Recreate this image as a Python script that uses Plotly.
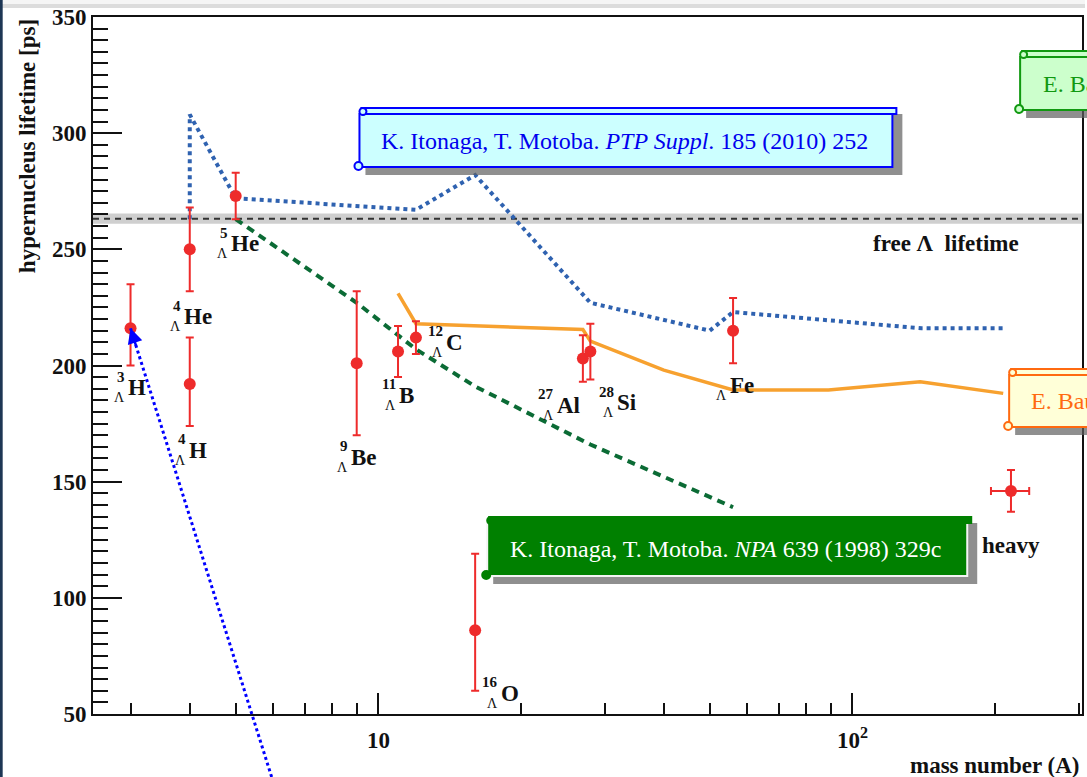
import math
import plotly.graph_objects as go

# ---- measured hypernuclear lifetimes ----
nuclide = ["3H", "4He", "4H", "5He", "9Be", "11B", "12C", "16O", "27Al", "28Si", "Fe"]
mass_A = [3, 4, 4, 5, 9, 11, 12, 16, 27, 28, 56]
tau = [216, 250, 192, 273, 201, 206, 212, 86, 203, 206, 215]
err_up = [19, 18, 20, 10, 31, 11, 7, 33, 10, 12, 14]
err_dn = [16, 18, 18, 10, 31, 11, 7, 26, 10, 12, 14]

# heavy hypernuclei (averaged)
heavy_A = [216]
heavy_tau = [146]
heavy_dA = [20]
heavy_dtau = [9]

# free Lambda lifetime and its uncertainty band
tau_free = 263.2
tau_free_err = 2.2

# theory: Itonaga & Motoba, PTP Suppl. 185 (2010) 252
ptp_A = [4, 4, 5, 12, 16, 28, 50, 56, 140, 208]
ptp_tau = [263, 308, 272, 267, 282, 227, 215, 223, 216, 216]

# theory: Itonaga & Motoba, NPA 639 (1998) 329c
npa_A = [5, 9, 12, 16, 28, 56]
npa_tau = [263, 227, 207, 191, 166, 139]

# theory: E. Bauer
bauer_A = [11, 12, 27, 28, 40, 56, 89, 139, 208]
bauer_tau = [231, 218, 215.5, 210.5, 198, 189.5, 189.5, 193, 188]

# label anchors (mass number, Lambda subscript, element), data coords
lab_mass = ["3", "4", "4", "5", "9", "11", "12", "16", "27", "28", ""]
lab_elem = ["H", "He", "H", "He", "Be", "B", "C", "O", "Al", "Si", "Fe"]
lab_A = [2.94, 3.86, 3.95, 4.83, 8.69, 10.97, 13.78, 17.99, 23.6, 31.5, 54.7]
lab_tau = [190.5, 220.9, 163.6, 252.3, 160.6, 187.3, 210.1, 59.0, 183.0, 183.9, 191.2]

X_MIN, X_MAX = 2.5, 305
Y_MIN, Y_MAX = 50, 350
W, H = 1087, 777
ML, MR, MT, MB = 93, 3, 17, 63
PW, PH = W - ML - MR, H - MT - MB

SERIF = "Liberation Serif"
RED = "#ee2b2b"


def px(xp):
    return (xp - ML) / PW


def py(yp):
    return (H - MB - yp) / PH


def xdata_to_paper(a):
    return (math.log10(a) - math.log10(X_MIN)) / (math.log10(X_MAX) - math.log10(X_MIN))


def ydata_to_paper(v):
    return (v - Y_MIN) / (Y_MAX - Y_MIN)


fig = go.Figure()

# free Lambda lifetime: grey uncertainty band and dashed central line
fig.add_trace(go.Scatter(x=[X_MIN, X_MAX], y=[tau_free - tau_free_err] * 2, mode="lines",
                         line=dict(width=0, color="#cfcfcf"),
                         showlegend=False, hoverinfo="skip"))
fig.add_trace(go.Scatter(x=[X_MIN, X_MAX], y=[tau_free + tau_free_err] * 2, mode="lines",
                         line=dict(width=0, color="#cfcfcf"), fill="tonexty",
                         fillcolor="#cfcfcf", showlegend=False, hoverinfo="skip"))
fig.add_trace(go.Scatter(x=[X_MIN, X_MAX], y=[tau_free] * 2, mode="lines",
                         line=dict(color="#333333", width=2, dash="6px,5px"),
                         showlegend=False, hoverinfo="skip"))

# theory curves
fig.add_trace(go.Scatter(x=ptp_A, y=ptp_tau, mode="lines",
                         line=dict(color="#2f62b0", width=4, dash="dot"),
                         showlegend=False, hoverinfo="skip"))
fig.add_trace(go.Scatter(x=npa_A, y=npa_tau, mode="lines",
                         line=dict(color="#0b6b35", width=4, dash="8px,6px"),
                         showlegend=False, hoverinfo="skip"))
fig.add_trace(go.Scatter(x=bauer_A, y=bauer_tau, mode="lines",
                         line=dict(color="#f7a12f", width=3.5),
                         showlegend=False, hoverinfo="skip"))

# measurements
fig.add_trace(go.Scatter(
    x=mass_A, y=tau, mode="markers",
    marker=dict(color=RED, size=12),
    error_y=dict(type="data", symmetric=False, array=err_up, arrayminus=err_dn,
                 color=RED, thickness=2, width=4),
    showlegend=False, hoverinfo="x+y"))
fig.add_trace(go.Scatter(
    x=heavy_A, y=heavy_tau, mode="markers",
    marker=dict(color=RED, size=12),
    error_y=dict(type="data", array=heavy_dtau, color=RED, thickness=2, width=4),
    error_x=dict(type="data", array=heavy_dA, color=RED, thickness=2, width=4),
    showlegend=False, hoverinfo="x+y"))

ann = []

# nuclide labels: mass number over Lambda, then the element symbol
for m, el, a, v in zip(lab_mass, lab_elem, lab_A, lab_tau):
    xl = math.log10(a)
    ann.append(dict(x=xl, y=v, xref="x", yref="y", text=el, showarrow=False,
                    xanchor="left", yanchor="middle",
                    font=dict(family=SERIF, size=23, color="#111111", weight="bold")))
    if m:
        ann.append(dict(x=xl, y=v, xref="x", yref="y", text=m, showarrow=False,
                        xanchor="right", yanchor="middle", xshift=1, yshift=11,
                        font=dict(family=SERIF, size=15, color="#111111", weight="bold")))
    ann.append(dict(x=xl, y=v, xref="x", yref="y", text="Λ", showarrow=False,
                    xanchor="right", yanchor="middle", xshift=1, yshift=-10,
                    font=dict(family=SERIF, size=14, color="#111111")))

ann.append(dict(x=math.log10(109.6), y=252.7, xref="x", yref="y",
                text="free Λ  lifetime", showarrow=False, xanchor="left", yanchor="middle",
                font=dict(family=SERIF, size=23, color="#111111", weight="bold")))
ann.append(dict(x=math.log10(186), y=122.7, xref="x", yref="y",
                text="heavy", showarrow=False, xanchor="left", yanchor="middle",
                font=dict(family=SERIF, size=23, color="#111111", weight="bold")))

# axis titles
ann.append(dict(x=px(27), y=py(146), xref="paper", yref="paper",
                text="hypernucleus lifetime [ps]", showarrow=False, textangle=-90,
                xanchor="center", yanchor="middle",
                font=dict(family=SERIF, size=23, color="#111111", weight="bold")))
ann.append(dict(x=px(1084), y=py(765), xref="paper", yref="paper",
                text="mass number (A)", showarrow=False,
                xanchor="right", yanchor="middle",
                font=dict(family=SERIF, size=23, color="#111111", weight="bold")))

shapes = []


def scroll_box(x0, y0, x1, y1, fill, edge, edge_w=2, body_edge=None):
    """Scroll-style callout: shadow, body, rolled top edge, small curls."""
    body_edge = body_edge or edge
    shapes.append(dict(type="rect", xref="paper", yref="paper",
                       x0=px(x0 + 6), x1=px(x1 + 6), y0=py(y1 + 8), y1=py(y0 + 6),
                       fillcolor="rgba(95,95,95,0.7)", line_width=0))
    shapes.append(dict(type="rect", xref="paper", yref="paper",
                       x0=px(x0), x1=px(x1 - 4), y0=py(y1), y1=py(y0 + 6),
                       fillcolor=fill, line=dict(color=body_edge, width=edge_w)))
    shapes.append(dict(type="rect", xref="paper", yref="paper",
                       x0=px(x0 + 2), x1=px(x1), y0=py(y0 + 6), y1=py(y0),
                       fillcolor=fill, line=dict(color=edge, width=edge_w)))
    shapes.append(dict(type="circle", xref="paper", yref="paper",
                       x0=px(x0), x1=px(x0 + 7), y0=py(y0 + 7), y1=py(y0),
                       fillcolor=fill, line=dict(color=edge, width=edge_w)))
    shapes.append(dict(type="circle", xref="paper", yref="paper",
                       x0=px(x0 - 5), x1=px(x0 + 3), y0=py(y1 + 3), y1=py(y1 - 5),
                       fillcolor=fill, line=dict(color=edge, width=edge_w)))


scroll_box(360, 108, 898, 167, "#ccffff", "#0000ff")
scroll_box(488, 517, 973, 576, "#008000", "#008000", body_edge="#f4f4f4")
scroll_box(1022, 51, 1100, 110, "#ccffcc", "#119911")
scroll_box(1011, 369, 1100, 427, "#ffffd8", "#ff6a10")

ann.append(dict(x=px(626), y=py(141), xref="paper", yref="paper", showarrow=False,
                xanchor="center", yanchor="middle",
                text="K. Itonaga, T. Motoba. <i>PTP Suppl</i>. 185 (2010) 252",
                font=dict(family=SERIF, size=24, color="#0000ee")))
ann.append(dict(x=px(727), y=py(549), xref="paper", yref="paper", showarrow=False,
                xanchor="center", yanchor="middle",
                text="K. Itonaga, T. Motoba. <i>NPA</i> 639 (1998) 329c",
                font=dict(family=SERIF, size=24, color="#ffffff")))
ann.append(dict(x=px(1043), y=py(84), xref="paper", yref="paper", showarrow=False,
                xanchor="left", yanchor="middle", text="E. Bauer",
                font=dict(family=SERIF, size=24, color="#119911")))
ann.append(dict(x=px(1031), y=py(401), xref="paper", yref="paper", showarrow=False,
                xanchor="left", yanchor="middle", text="E. Bauer",
                font=dict(family=SERIF, size=24, color="#ff6a10")))

# dotted pointer to the 3H measurement
tip_x, tip_y = xdata_to_paper(3), ydata_to_paper(216)
shapes.append(dict(type="line", xref="paper", yref="paper",
                   x0=px(272), y0=py(777), x1=tip_x, y1=tip_y,
                   line=dict(color="#0000ff", width=3, dash="dot")))
ann.append(dict(x=math.log10(3), y=216, xref="x", yref="y", text="",
                showarrow=True, arrowhead=2, arrowsize=1.2, arrowwidth=2.5,
                arrowcolor="#0000ff", ax=6, ay=19, standoff=0))

# page frame: top strip and left edge
shapes.append(dict(type="rect", xref="paper", yref="paper",
                   x0=px(0), x1=px(W), y0=py(8), y1=py(0),
                   fillcolor="#dcdcdc", line_width=0))
shapes.append(dict(type="rect", xref="paper", yref="paper",
                   x0=px(0), x1=px(W), y0=py(4), y1=py(0),
                   fillcolor="#f5f5f5", line_width=0))
shapes.append(dict(type="line", xref="paper", yref="paper",
                   x0=px(1), x1=px(1), y0=py(0), y1=py(H),
                   line=dict(color="#1d3654", width=3)))

minor_x = [3, 4, 5, 6, 7, 8, 9, 20, 30, 40, 50, 60, 70, 80, 90, 200, 300]

fig.update_layout(
    width=W, height=H,
    margin=dict(l=ML, r=MR, t=MT, b=MB),
    paper_bgcolor="white", plot_bgcolor="white",
    showlegend=False,
    annotations=ann, shapes=shapes,
    xaxis=dict(
        type="log", range=[math.log10(X_MIN), math.log10(X_MAX)],
        showline=True, linecolor="#111111", linewidth=2, mirror=True,
        showgrid=False, zeroline=False,
        ticks="inside", ticklen=21, tickwidth=2, tickcolor="#111111",
        tickvals=[10, 100], ticktext=["10", "10<sup>2</sup>"],
        ticklabelstandoff=4,
        tickfont=dict(family=SERIF, size=23, color="#111111", weight="bold"),
        minor=dict(ticks="inside", ticklen=11, tickwidth=2, tickcolor="#111111",
                   tickvals=minor_x, showgrid=False),
    ),
    yaxis=dict(
        range=[Y_MIN, Y_MAX],
        showline=True, linecolor="#111111", linewidth=2, mirror=True,
        showgrid=False, zeroline=False,
        ticks="inside", ticklen=29, tickwidth=2, tickcolor="#111111",
        tickvals=[50, 100, 150, 200, 250, 300, 350],
        tickfont=dict(family=SERIF, size=23, color="#111111", weight="bold"),
        minor=dict(ticks="inside", ticklen=15, tickwidth=2, tickcolor="#111111",
                   dtick=5, showgrid=False),
    ),
)

fig.write_html("out.html")
